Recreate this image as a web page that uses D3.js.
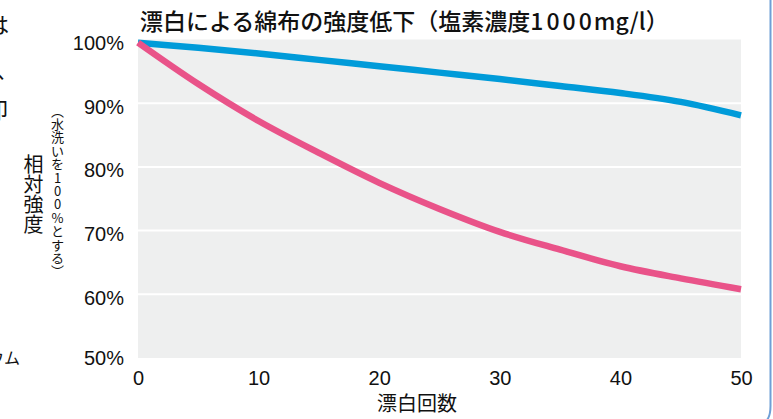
<!DOCTYPE html>
<html>
<head>
<meta charset="utf-8">
<script src="https://cdn.jsdelivr.net/npm/d3@7"></script>
<style>
  html, body { margin: 0; padding: 0; background: #fff; }
  svg { display: block; }
</style>
</head>
<body>
<div id="chart"></div>
<script>
const WIDTH = 773;
const HEIGHT = 419;

// data
const rounds = [0, 5, 10, 15, 20, 25, 30, 35, 40, 45, 50];
const blueValues = [99.5, 98.7, 97.8, 96.8, 95.8, 94.8, 93.8, 92.7, 91.6, 90.2, 88.1];
const pinkValues = [99.5, 93.0, 87.2, 82.2, 77.5, 73.4, 69.8, 67.0, 64.4, 62.5, 60.8];
const xTicks = [0, 10, 20, 30, 40, 50];
const yTicks = [50, 60, 70, 80, 90, 100];
const gridValues = [60, 70, 80, 90];

const title = '漂白による綿布の強度低下（塩素濃度';
const titleNum = '1000';
const titleTail = 'mg/l）';
const xLabel = '漂白回数';
const yLabel = ['相', '対', '強', '度'];
const yNote = ['︵', '水', '洗', 'い', 'を', '1', '0', '0', '%', 'と', 'す', 'る', '︶'];

const JP = '"Noto Sans CJK JP", "Noto Sans", sans-serif';
const NUM = '"Liberation Sans", Arial, sans-serif';

const svg = d3.select('#chart')
  .append('svg')
  .attr('width', WIDTH)
  .attr('height', HEIGHT);

const x = d3.scaleLinear().domain([0, 50]).range([138, 741]);
const y = d3.scaleLinear().domain([50, 100]).range([358, 39.5]);

// plot background
svg.append('rect')
  .attr('x', x(0))
  .attr('y', y(100))
  .attr('width', x(50) - x(0))
  .attr('height', y(50) - y(100))
  .attr('fill', '#eeefef');

// white grid lines
svg.selectAll('line.grid')
  .data(gridValues)
  .enter()
  .append('line')
  .attr('class', 'grid')
  .attr('x1', x(0))
  .attr('x2', x(50))
  .attr('y1', d => y(d))
  .attr('y2', d => y(d))
  .attr('stroke', '#fff')
  .attr('stroke-width', 2);

// y axis labels
const yAxis = svg.append('g')
  .attr('transform', `translate(${x(0) - 14},0)`)
  .call(d3.axisLeft(y).tickValues(yTicks).tickFormat(d => d + '%').tickSize(0).tickPadding(0));
yAxis.select('.domain').remove();
yAxis.selectAll('text')
  .attr('font-family', NUM)
  .attr('font-size', 20)
  .attr('fill', '#111')
  .attr('dy', d => d === 50 ? '0.32em' : '0.5em');

// x axis labels
const xAxis = svg.append('g')
  .attr('transform', `translate(0,${y(50)})`)
  .call(d3.axisBottom(x).tickValues(xTicks).tickSize(0).tickPadding(0));
xAxis.select('.domain').remove();
xAxis.selectAll('text')
  .attr('font-family', NUM)
  .attr('font-size', 20)
  .attr('fill', '#111')
  .attr('dy', '1.35em');

// lines
const line = d3.line()
  .x((d, i) => x(rounds[i]))
  .y(d => y(d))
  .curve(d3.curveCatmullRom.alpha(0.5));

svg.append('path')
  .datum(blueValues)
  .attr('d', line)
  .attr('fill', 'none')
  .attr('stroke', '#009bd9')
  .attr('stroke-width', 6.5);

svg.append('path')
  .datum(pinkValues)
  .attr('d', line)
  .attr('fill', 'none')
  .attr('stroke', '#e95389')
  .attr('stroke-width', 6.5);

// title
const t = svg.append('text')
  .attr('x', 140)
  .attr('y', 30)
  .attr('font-family', JP)
  .attr('font-size', 23)
  .attr('font-weight', 500)
  .attr('fill', '#111');
t.append('tspan').text(title);
t.append('tspan').attr('letter-spacing', 3).text(titleNum);
t.append('tspan').attr('dx', -1).text(titleTail);

// x axis title
svg.append('text')
  .attr('x', 417)
  .attr('y', 411)
  .attr('text-anchor', 'middle')
  .attr('font-family', JP)
  .attr('font-size', 20)
  .attr('fill', '#111')
  .text(xLabel);

// vertical y axis title, one character per row
svg.append('g')
  .selectAll('text')
  .data(yLabel)
  .enter()
  .append('text')
  .attr('x', 33.5)
  .attr('y', (d, i) => 163 + i * 20)
  .attr('text-anchor', 'middle')
  .attr('dominant-baseline', 'central')
  .attr('font-family', JP)
  .attr('font-size', 20)
  .attr('fill', '#111')
  .text(d => d);

svg.append('g')
  .selectAll('text')
  .data(yNote)
  .enter()
  .append('text')
  .attr('x', 57.5)
  .attr('y', (d, i) => 110 + i * 13.4)
  .attr('text-anchor', 'middle')
  .attr('dominant-baseline', 'central')
  .attr('font-family', JP)
  .attr('font-size', 13)
  .attr('fill', '#111')
  .text(d => d);

// fragments of the neighbouring page text, cut at the left edge
const fragments = [
  { text: 'は', x: -13, y: 33, size: 22 },
  { text: '、', x: -4, y: 78, size: 22 },
  { text: '即', x: -14, y: 118, size: 22 },
  { text: 'ウム', x: -12, y: 364, size: 16 }
];
svg.append('g')
  .selectAll('text')
  .data(fragments)
  .enter()
  .append('text')
  .attr('x', d => d.x)
  .attr('y', d => d.y)
  .attr('font-family', JP)
  .attr('font-size', d => d.size)
  .attr('fill', '#111')
  .text(d => d.text);

// frame edge on the right
svg.append('path')
  .attr('d', 'M770.5,0 V406 Q770.5,417 766,421')
  .attr('fill', 'none')
  .attr('stroke', '#6f9fd6')
  .attr('stroke-width', 2);
</script>
</body>
</html>
